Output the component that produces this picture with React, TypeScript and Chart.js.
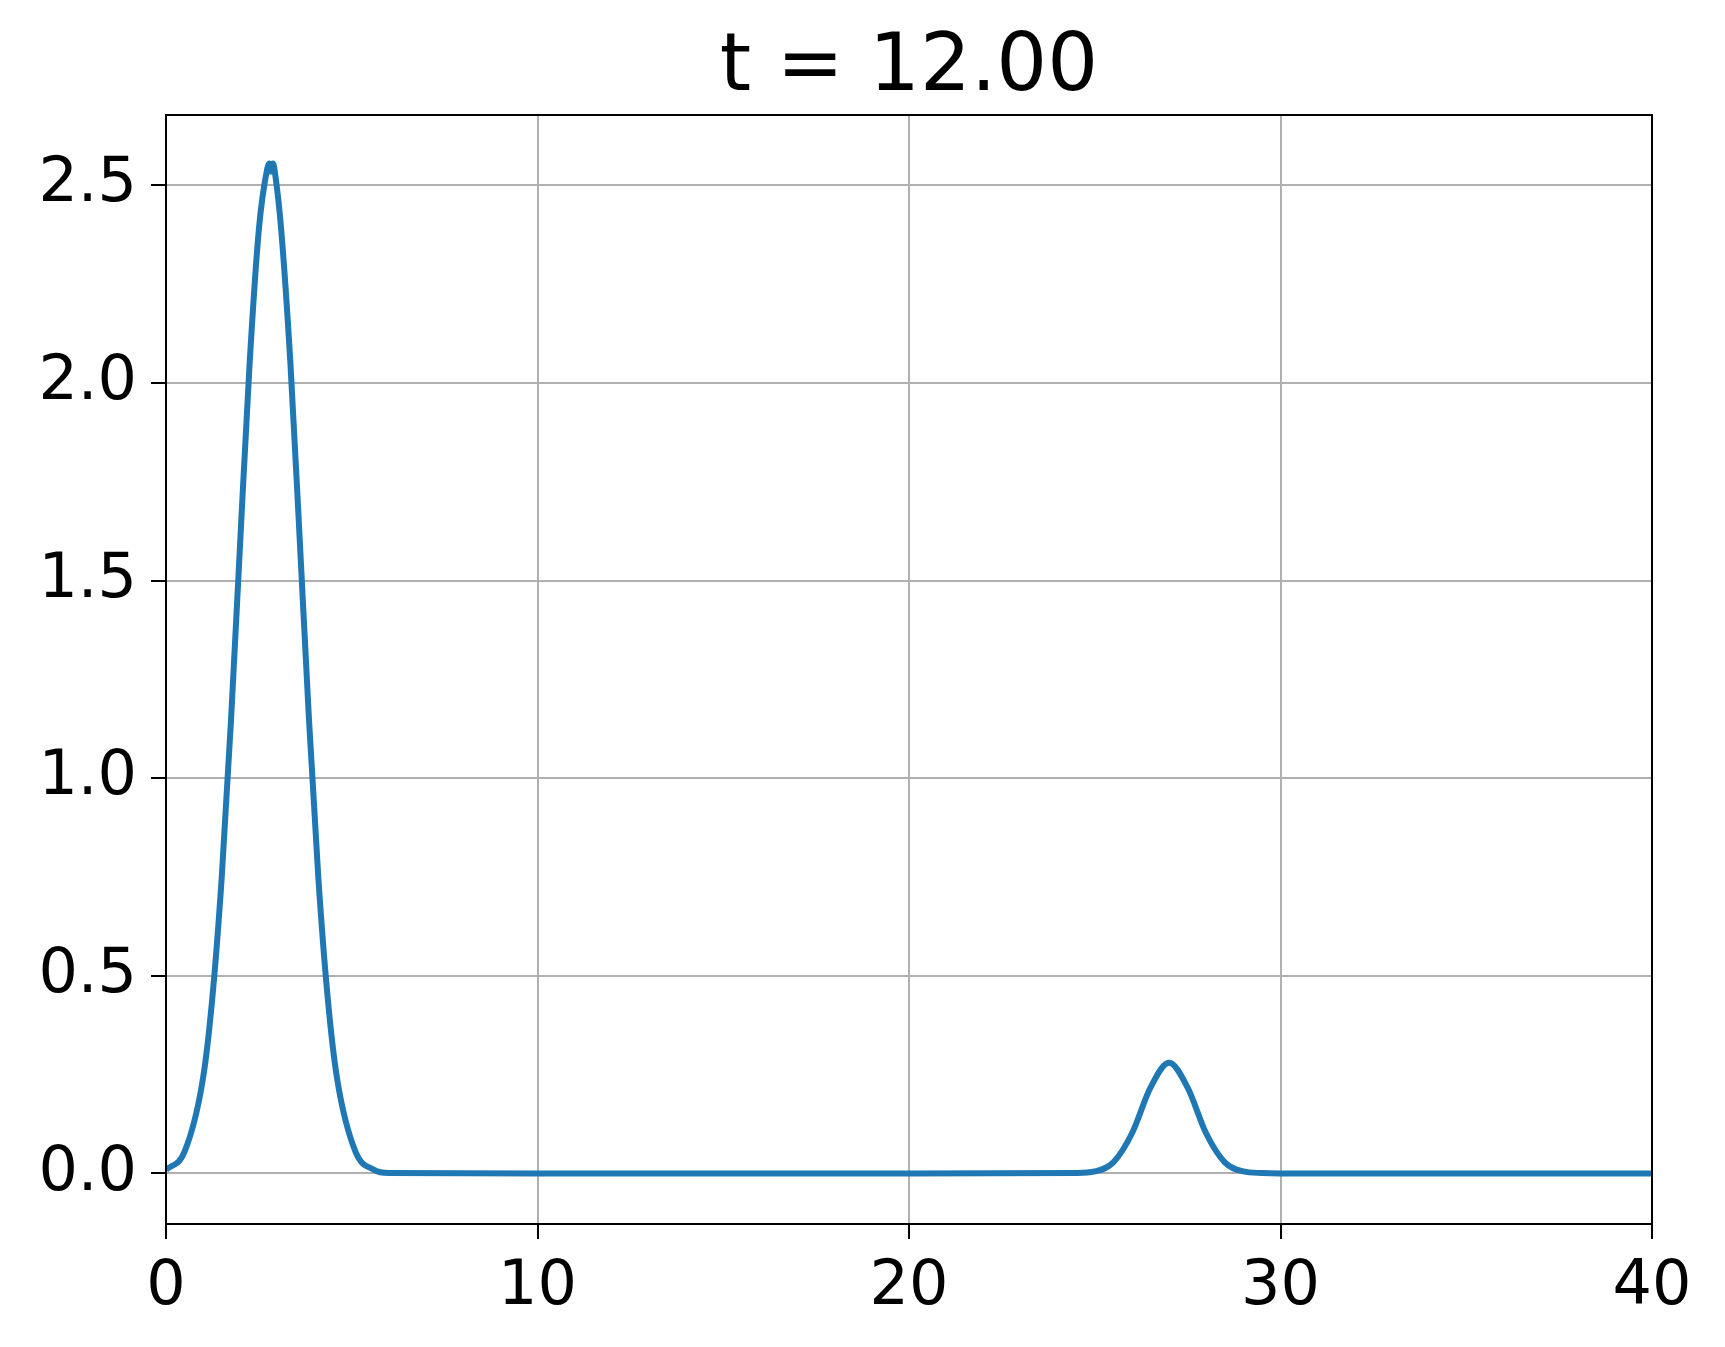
import { useEffect, useRef } from "react";
import { Chart, registerables } from "chart.js";

Chart.register(...registerables);

const title = "t = 12.00";
const xs = [
  0, 0.5, 1.0, 1.25, 1.5, 1.75, 2.0, 2.25, 2.5, 2.72, 2.78, 2.83, 2.88, 2.95, 3.1, 3.35, 3.6, 3.85,
  4.1, 4.35, 4.6, 5.1, 5.6, 6, 10, 20, 24.5, 25, 25.5, 26, 26.5, 27, 27.5, 28, 28.5, 29, 29.5,
  30, 40,
];
const ys = [
  0.009, 0.055, 0.243, 0.447, 0.749, 1.147, 1.603, 2.048, 2.389, 2.54, 2.555, 2.535, 2.555, 2.52,
  2.389, 2.048, 1.603, 1.147, 0.749, 0.447, 0.243, 0.055, 0.009, 0.001, 0, 0, 0.001, 0.005, 0.028,
  0.101, 0.217, 0.28, 0.217, 0.101, 0.028, 0.005, 0.001, 0, 0,
];
const yTicks = [0, 0.5, 1.0, 1.5, 2.0, 2.5];
const xTicks = [0, 10, 20, 30, 40];

const FONT = "'DejaVu Sans', sans-serif";

export default function App() {
  const canvasRef = useRef<HTMLCanvasElement | null>(null);

  useEffect(() => {
    if (!canvasRef.current) return;
    const framePlugin = {
      id: "mplFrame",
      afterDraw(chart: Chart) {
        const { ctx, chartArea } = chart;
        ctx.save();
        ctx.strokeStyle = "#000";
        ctx.lineWidth = 2;
        ctx.strokeRect(chartArea.left, chartArea.top, chartArea.right - chartArea.left, chartArea.bottom - chartArea.top);
        ctx.fillStyle = "#000";
        ctx.font = `80px ${FONT}`;
        ctx.textAlign = "center";
        ctx.textBaseline = "alphabetic";
        ctx.fillText(title, (chartArea.left + chartArea.right) / 2, 90);
        ctx.restore();
      },
    };
    const chart = new Chart(canvasRef.current, {
      type: "scatter",
      data: {
        datasets: [
          {
            data: xs.map((x, i) => ({ x, y: ys[i] })),
            showLine: true,
            borderColor: "#1f77b4",
            borderWidth: 6,
            pointRadius: 0,
            cubicInterpolationMode: "monotone",
          },
        ],
      },
      options: {
        animation: false,
        responsive: false,
        devicePixelRatio: 1,
        layout: { padding: { top: 115, right: 73, left: 0, bottom: 0 } },
        plugins: { legend: { display: false }, tooltip: { enabled: false } },
        scales: {
          x: {
            type: "linear",
            min: 0,
            max: 40,
            afterBuildTicks: (s: any) => {
              s.ticks = xTicks.map((v) => ({ value: v }));
            },
            afterFit: (s: any) => {
              s.height = 123;
            },
            grid: { color: "#b0b0b0", lineWidth: 2, tickColor: "#000", tickLength: 15, tickWidth: 2 },
            border: { color: "#000", width: 2 },
            ticks: { color: "#000", font: { family: FONT, size: 62 }, padding: 12, callback: (v: any) => String(v) },
          },
          y: {
            type: "linear",
            min: -0.128,
            max: 2.678,
            afterBuildTicks: (s: any) => {
              s.ticks = yTicks.map((v) => ({ value: v }));
            },
            afterFit: (s: any) => {
              s.width = 166;
            },
            grid: { color: "#b0b0b0", lineWidth: 2, tickColor: "#000", tickLength: 15, tickWidth: 2 },
            border: { color: "#000", width: 2 },
            ticks: { color: "#000", font: { family: FONT, size: 62 }, padding: 14, callback: (v: any) => Number(v).toFixed(1) },
          },
        },
      },
      plugins: [framePlugin],
    });
    return () => chart.destroy();
  }, []);

  return (
    <div style={{ position: "fixed", left: 0, top: 0, width: 1725, height: 1347, background: "#fff" }}>
      <canvas ref={canvasRef} width={1725} height={1347} style={{ width: 1725, height: 1347 }} />
    </div>
  );
}
